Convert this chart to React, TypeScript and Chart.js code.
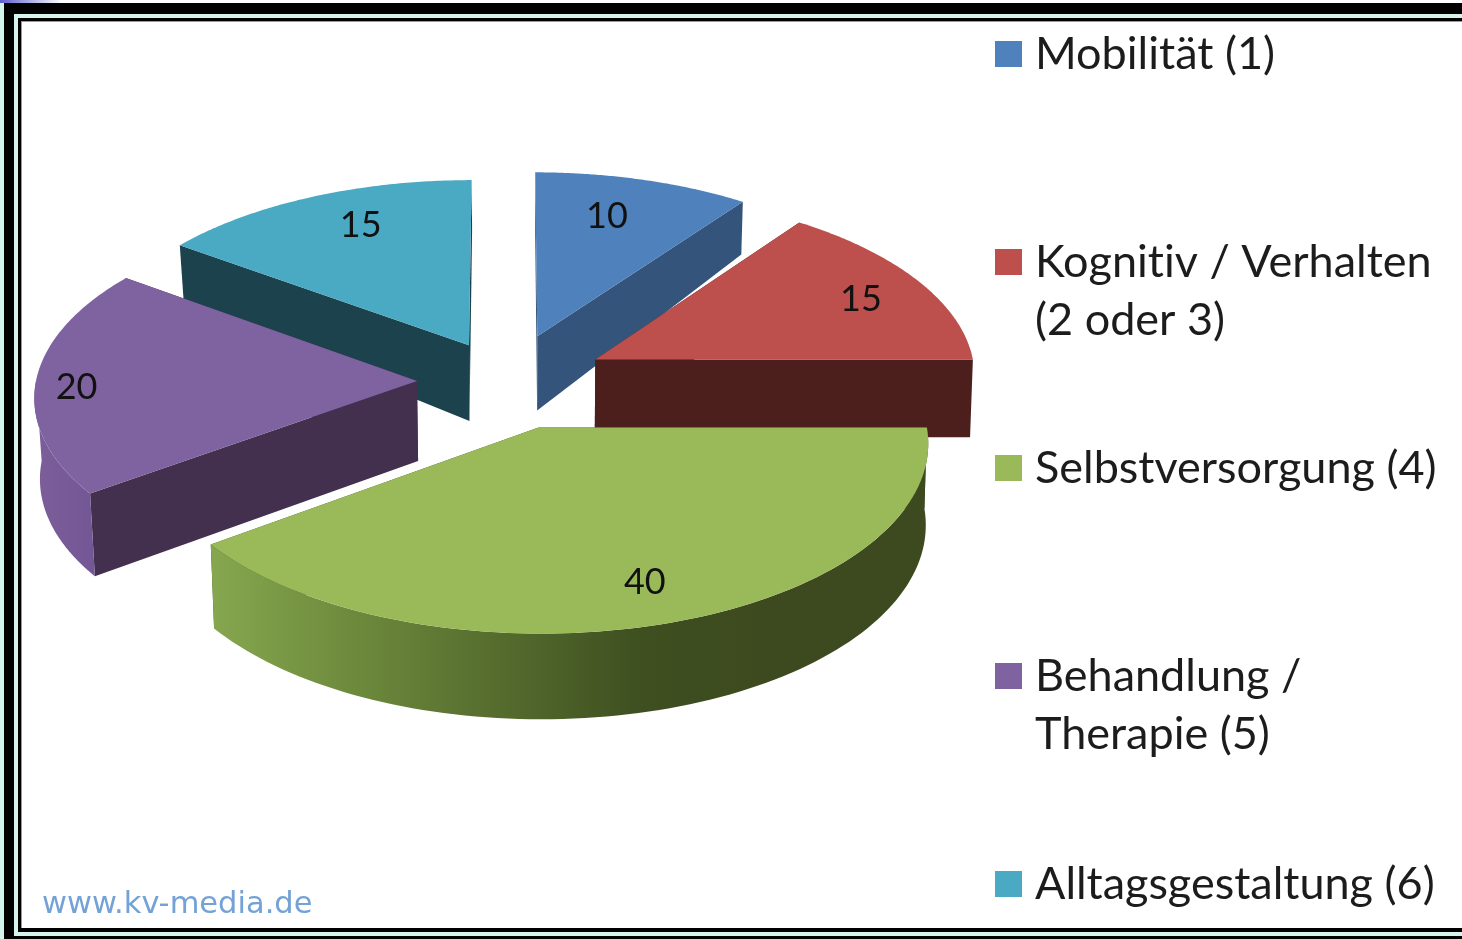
import React, { useEffect, useRef } from "react";
import { Chart, registerables } from "chart.js";

Chart.register(...registerables);

const categories: string[][] = [
  ["Mobilität (1)"],
  ["Kognitiv / Verhalten", "(2 oder 3)"],
  ["Selbstversorgung (4)"],
  ["Behandlung /", "Therapie (5)"],
  ["Alltagsgestaltung (6)"],
];
const seriesValues = [10, 15, 40, 20, 15];

const topColors = ["#4f81bd", "#bd4f4c", "#9aba59", "#7f62a0", "#4aaac3"];
const wallColors = ["#34547c", "#4c1e1c", "#3d4d20", "#43304f", "#1c434d"];
const rimStops: string[][] = [
  ["#34547c", "#34547c"],
  ["#4c1e1c", "#4c1e1c"],
  ["#86a74f", "#6d8a3c", "#556c2e", "#3e4f20", "#3d491e", "#3d491e"],
  ["#7c5e9a", "#735695"],
  ["#1c434d", "#1c434d"],
];
const sliceOffsets = [100, 100, 100, 90, 85];
const labelReach = [0.72, 0.8, 0.86, 0.87, 0.74];
const labelNudgeX = [-8, 6, -6, -9, 10];
const labelNudgeY = [-5, 3, -11, 6, -8];

const FONT = "Lato";
const PERSPECTIVE = 5000;
const TILT = 0.48;

function wallDepth(Y: number) {
  return Y < 0 ? 81 + Y * 0.07 : 80 + Y * 0.012;
}

const pie3d = {
  id: "pie3d",
  beforeDraw(chart: any) {
    const { ctx, width, height } = chart;
    ctx.save();
    ctx.fillStyle = "#ffffff";
    ctx.fillRect(0, 0, width, height);
    // picture frame
    ctx.fillStyle = "#000000";
    ctx.fillRect(0, 0, width, 21);
    ctx.fillRect(0, 0, 21, height);
    ctx.fillRect(0, 928, width, 11);
    const strip = ctx.createLinearGradient(0, 0, 62, 0);
    strip.addColorStop(0, "#5f5fd0");
    strip.addColorStop(1, "#ffffff");
    ctx.fillStyle = strip;
    ctx.fillRect(0, 0, width, 3);
    ctx.fillStyle = "#d4f5ee";
    ctx.fillRect(0, 3, 4, height);
    ctx.fillRect(14, 14, width, 4);
    ctx.fillRect(14, 14, 4, 921);
    ctx.fillRect(14, 932, width, 4);
    ctx.fillStyle = "#9a9a9a";
    ctx.fillRect(21, 21, width, 1);
    ctx.fillRect(21, 21, 1, 907);
    ctx.fillStyle = "#ffffff";
    ctx.fillRect(22, 22, width, 906);
    ctx.restore();
  },
  beforeDatasetsDraw(chart: any) {
    const { ctx } = chart;
    const meta = chart.getDatasetMeta(0);
    const project = (cx: number, cy: number, X: number, Y: number, low: boolean) => {
      const s = PERSPECTIVE / (PERSPECTIVE - Y);
      return [
        cx + X * s - (low ? X * (X > 0 ? 0.006 : 0.012) : 0),
        cy + Y * TILT * s + (low ? wallDepth(Y) : 0),
      ];
    };
    const slices = meta.data.map((el: any, i: number) => {
      const off = el.options.offset;
      const mid = (el.startAngle + el.endAngle) / 2;
      return { el, i, X0: off * Math.cos(mid), Y0: off * Math.sin(mid), mid };
    });
    slices.sort((a: any, b: any) => a.Y0 - b.Y0);
    for (const { el, i, X0, Y0 } of slices) {
      const R = el.outerRadius;
      const P = (a: number, low: boolean) =>
        project(el.x, el.y, X0 + R * Math.cos(a), Y0 + R * Math.sin(a), low);
      const A = (low: boolean) => project(el.x, el.y, X0, Y0, low);
      const poly = (pts: number[][], fill: any) => {
        ctx.beginPath();
        pts.forEach((p, n) => (n ? ctx.lineTo(p[0], p[1]) : ctx.moveTo(p[0], p[1])));
        ctx.closePath();
        ctx.fillStyle = fill;
        ctx.fill();
      };
      // radial walls
      poly([A(false), P(el.startAngle, false), P(el.startAngle, true), A(true)], wallColors[i]);
      poly([A(false), P(el.endAngle, false), P(el.endAngle, true), A(true)], wallColors[i]);
      // rim, only where it faces the viewer
      const rimFrom = Math.max(el.startAngle, -0.0001);
      const rimTo = Math.min(el.endAngle, Math.PI);
      const steps = 96;
      if (rimTo > rimFrom) {
        const up: number[][] = [];
        const down: number[][] = [];
        for (let n = 0; n <= steps; n++) {
          const a = rimFrom + ((rimTo - rimFrom) * n) / steps;
          up.push(P(a, false));
          down.unshift(P(a, true));
        }
        const all = up.concat(down);
        const xs = all.map((p) => p[0]);
        const grad = ctx.createLinearGradient(Math.min(...xs), 0, Math.max(...xs), 0);
        rimStops[i].forEach((c, n, arr) => grad.addColorStop(n / (arr.length - 1), c));
        poly(all, grad);
      }
      // top face
      const top: number[][] = [A(false)];
      for (let n = 0; n <= steps; n++) {
        top.push(P(el.startAngle + ((el.endAngle - el.startAngle) * n) / steps, false));
      }
      poly(top, el.options.backgroundColor);
    }
    // value labels
    ctx.save();
    ctx.font = `36px ${FONT}`;
    ctx.textAlign = "center";
    ctx.textBaseline = "middle";
    ctx.fillStyle = "#111111";
    for (const { el, i, X0, Y0, mid } of slices) {
      const d = el.outerRadius * labelReach[i];
      const p = project(el.x, el.y, X0 + d * Math.cos(mid), Y0 + d * Math.sin(mid), false);
      ctx.fillText(
        String(chart.data.datasets[0].data[i]),
        p[0] + labelNudgeX[i],
        p[1] + labelNudgeY[i]
      );
    }
    ctx.restore();
    return false;
  },
  afterDraw(chart: any) {
    const { ctx } = chart;
    ctx.save();
    // legend
    const ys = [54, 262, 468, 676, 884];
    ctx.textAlign = "left";
    ctx.textBaseline = "middle";
    ctx.textRendering = "optimizeSpeed";
    ctx.font = `45px ${FONT}`;
    chart.data.labels.forEach((lines: string[], i: number) => {
      ctx.fillStyle = topColors[i];
      ctx.fillRect(995, ys[i] - 13, 27, 26);
      ctx.fillStyle = "#1c1c1c";
      lines.forEach((line, n) => ctx.fillText(line, 1035, ys[i] + n * 58));
    });
    // watermark
    ctx.textRendering = "auto";
    ctx.font = "30.5px 'DejaVu Sans'";
    ctx.fillStyle = "#74a2d6";
    ctx.textBaseline = "alphabetic";
    ctx.fillText("www.kv-media.de", 42, 913);
    ctx.restore();
  },
};

export default function App() {
  const ref = useRef<HTMLCanvasElement>(null);
  useEffect(() => {
    const chart = new Chart(ref.current as HTMLCanvasElement, {
      type: "pie",
      data: {
        labels: categories as any,
        datasets: [
          {
            data: seriesValues,
            backgroundColor: topColors,
            offset: sliceOffsets,
            borderWidth: 0,
          },
        ],
      },
      options: {
        animation: false,
        responsive: false,
        radius: 381,
        layout: { padding: { left: 0, top: 0, right: 448, bottom: 177 } },
        plugins: { legend: { display: false }, tooltip: { enabled: false } },
      } as any,
      plugins: [pie3d as any],
    });
    return () => chart.destroy();
  }, []);
  return (
    <div style={{ position: "absolute", left: 0, top: 0, width: 1462, height: 939 }}>
      <canvas ref={ref} width={1462} height={939} style={{ display: "block" }} />
    </div>
  );
}
